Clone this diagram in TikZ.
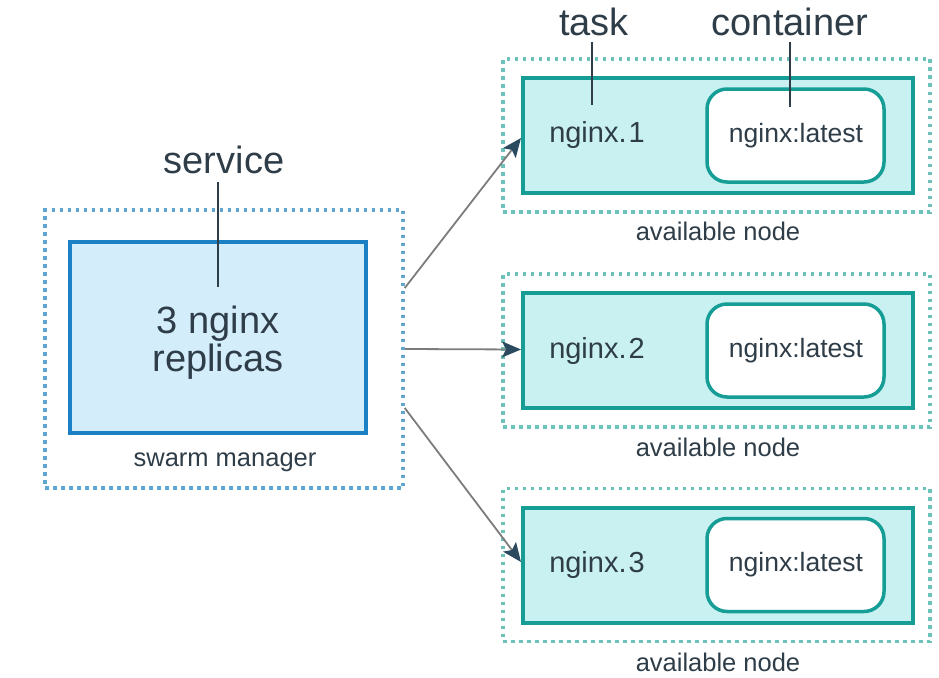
\documentclass[tikz,border=0pt]{standalone}
\usepackage{fontspec}
\setmainfont{Liberation Sans}
\usetikzlibrary{arrows.meta}
\definecolor{txt}{HTML}{2E3D48}
\definecolor{bluebd}{HTML}{1B80C4}
\definecolor{bluefill}{HTML}{D3EDFB}
\definecolor{bluedot}{HTML}{5FA6D0}
\definecolor{tealbd}{HTML}{169E96}
\definecolor{tealfill}{HTML}{C9F1F1}
\definecolor{tealdot}{HTML}{6CC2B8}
\definecolor{arrline}{HTML}{7C7C7C}
\definecolor{arrhead}{HTML}{2B4A5F}
\tikzset{
  dotbox/.style={draw, line width=3.5pt, dash pattern=on 3.5pt off 4.5pt, minimum width=#1},
  mgrbox/.style={draw=bluebd, fill=bluefill, line width=4pt, minimum width=296pt, minimum height=191pt, inner sep=0pt},
  taskbox/.style={draw=tealbd, fill=tealfill, line width=4pt, minimum width=390pt, minimum height=115pt, inner sep=0pt},
  contbox/.style={draw=tealbd, fill=white, line width=3.5pt, rounded corners=20pt, minimum width=177pt, minimum height=93pt, inner sep=0pt},
  big/.style={text=txt, font=\fontsize{38}{42}\selectfont, inner sep=0pt},
  mid/.style={text=txt, font=\fontsize{29}{32}\selectfont, inner sep=0pt},
  small/.style={text=txt, font=\fontsize{25.5}{28}\selectfont, inner sep=0pt},
  lbl/.style={draw=txt, line width=2pt},
  conn/.style={draw=arrline, line width=1.8pt, -{Stealth[length=19pt,width=16pt,inset=4pt,color=arrhead]}},
}
\begin{document}
\begin{tikzpicture}[x=1pt,y=-1pt]
\useasboundingbox (0,0) rectangle (939,677);
% manager
\node[dotbox=358pt, draw=bluedot, minimum height=278pt] (mgrout) at (224,349) {};
\node[mgrbox] (mgr) at (218,337.5) {};
\node[big, align=center] (mgrtxt) at (218,343) {3 nginx\\[-4pt]replicas};
\node[small] (mgrlbl) at (225,462) {swarm manager};
\node[big] (service) at (224,160) {service};
\coordinate (servtop) at (218,182);
\coordinate (servend) at (218,287);
\draw[lbl] (servtop) -- (servend);
% worker nodes
\foreach \i/\y/\ly in {1/135.5/231, 2/350.5/447, 3/565/662}{
  \node[dotbox=427pt, draw=tealdot, minimum height=153pt] (out\i) at (716.5,\y) {};
  \node[taskbox] (task\i) at (718,\y) {};
  \node[contbox] (cont\i) at (795.5,\y) {};
  \node[mid] (tname\i) at (597,\y) {nginx.\kern2pt\i};
  \node[small, font=\fontsize{26.5}{28}\selectfont] (ctxt\i) at (796,\y) {nginx:latest};
  \node[small] (avail\i) at (718,\ly) {available node};
}
% labels
\node[big] (tasklbl) at (594,22) {task};
\node[big] (contlbl) at (790,22) {container};
\coordinate (tasktop) at (592,42);
\coordinate (conttop) at (790,42);
\coordinate (taskend) at (592,105);
\coordinate (contend) at (790,107);
\draw[lbl] (tasktop) -- (taskend);
\draw[lbl] (conttop) -- (contend);
% connectors
\draw[conn] ([yshift=61pt]mgrout.east) -- ([yshift=-2.5pt]task1.west);
\draw[conn] ([yshift=0pt]mgrout.east) -- ([yshift=1pt]task2.west);
\draw[conn] ([yshift=-59pt]mgrout.east) -- ([yshift=3pt]task3.west);
\end{tikzpicture}
\end{document}
